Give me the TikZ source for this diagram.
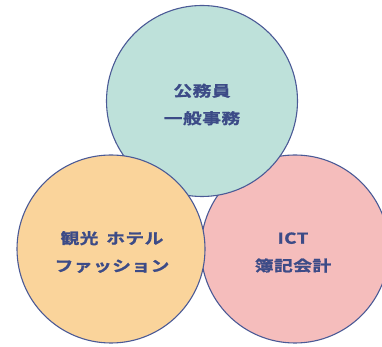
\documentclass[tikz,border=0pt]{standalone}
\usepackage{fontspec}
\newfontfamily\jpfont[FakeStretch=1.25, FakeBold=1.2, LetterSpace=3]{Noto Sans CJK JP Bold}
\definecolor{rim}{HTML}{4B5A96}
\definecolor{ink}{HTML}{3C4B87}
\definecolor{mint}{HTML}{BEE1DA}
\definecolor{apricot}{HTML}{FAD49B}
\definecolor{rose}{HTML}{F5BDBC}
\begin{document}
\begin{tikzpicture}[x=1pt, y=1pt,
    bubble/.style={draw=rim, line width=1.1pt, circle, inner sep=0pt, minimum size=188pt},
    lbl/.style={text=ink, align=center, inner sep=0pt, font=\jpfont\fontsize{15}{27.5}\selectfont}]
            \useasboundingbox (0,0) rectangle (382,347);
            % drawn back to front
            \node[bubble, fill=rose] (ict) at (295,98) {};
            \node[bubble, fill=mint, minimum size=191pt] (kou) at (202,246) {};
            \node[bubble, fill=apricot] (kan) at (111,98) {};
            \node[lbl] (ict') at ([xshift=-2pt, yshift=-3.5pt]ict.center) {ICT\\簿記会計};
            \node[lbl] (kou') at ([yshift=-3.5pt]kou.center) {公務員\\一般事務};
            \node[lbl] (kan') at ([xshift=1pt, yshift=-3pt]kan.center) {観光\hspace{3pt} ホテル\\ファッション};
            \end{tikzpicture}
\end{document}
